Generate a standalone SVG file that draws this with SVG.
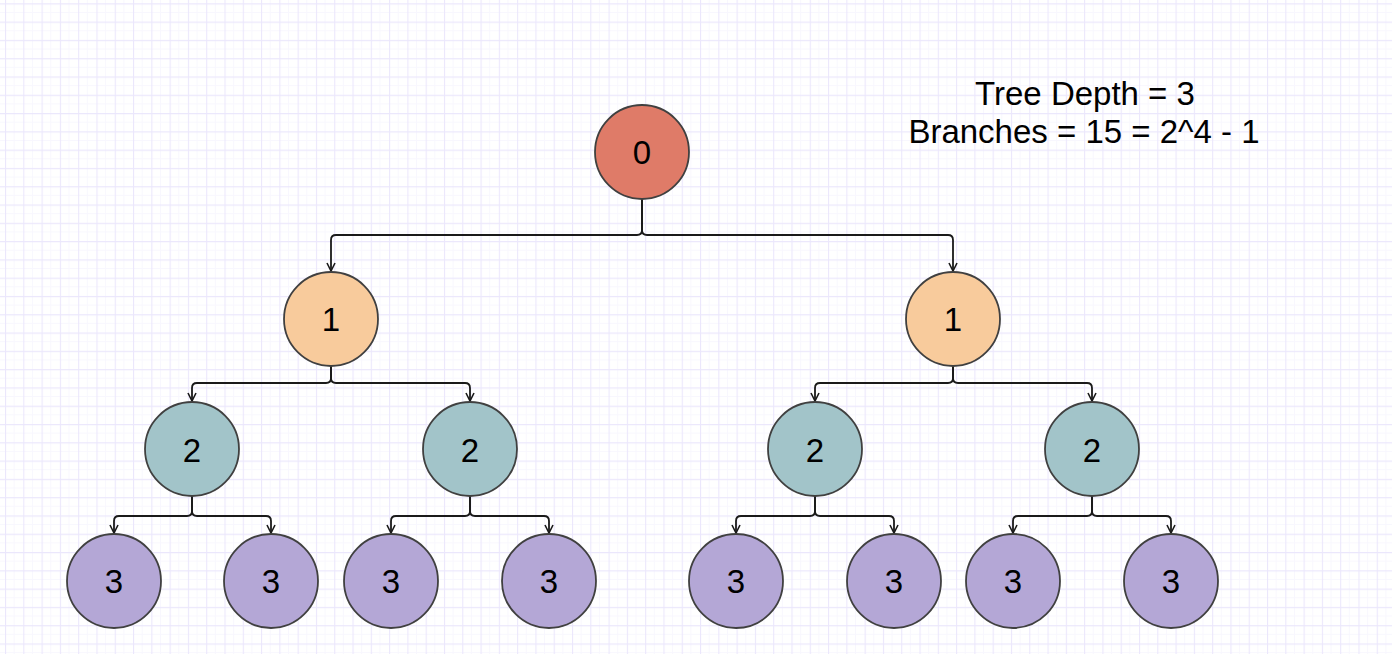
<svg xmlns="http://www.w3.org/2000/svg" width="1392" height="654" viewBox="0 0 1392 654">
<style>
.n circle{stroke:#404040;stroke-width:1.8}
.n text{font-family:"Liberation Sans",Arial,sans-serif;font-size:33px;fill:#000;text-anchor:middle}
.l0 circle{fill:#df7b68}
.l1 circle{fill:#f8cb9c}
.l2 circle{fill:#a2c4c9}
.l3 circle{fill:#b4a7d6}
#connectors path{fill:none;stroke:#1a1a1a;stroke-width:1.8;marker-end:url(#arr)}
.label{font-family:"Liberation Sans",Arial,sans-serif;font-size:33px;fill:#000;text-anchor:middle}
</style>
<defs>
<pattern id="grid" patternUnits="userSpaceOnUse" x="5" y="3.3" width="18.29" height="18.29">
<path d="M9.145 0V18.29M0 9.145H18.29" stroke="#f8f7fe" stroke-width="1" fill="none"/>
<path d="M0.5 0V18.29M0 0.5H18.29" stroke="#ebe7fc" stroke-width="1.2" fill="none"/>
</pattern>
<marker id="arr" viewBox="-10 -5 11 10" refX="0" refY="0" markerWidth="11" markerHeight="10" markerUnits="userSpaceOnUse" orient="auto">
<path d="M-8 -4L0 0L-8 4" fill="none" stroke="#1a1a1a" stroke-width="1.6"/>
</marker>
</defs>
<rect width="1392" height="654" fill="#ffffff"/>
<rect width="1392" height="654" fill="url(#grid)"/>
<g id="connectors">
<path d="M642 199V230Q642 235 637 235H336Q331 235 331 240V271"/>
<path d="M642 199V230Q642 235 647 235H948Q953 235 953 240V271"/>
<path d="M331 366V378Q331 383 326 383H197Q192 383 192 388V401"/>
<path d="M331 366V378Q331 383 336 383H465Q470 383 470 388V401"/>
<path d="M953 366V378Q953 383 948 383H820Q815 383 815 388V401"/>
<path d="M953 366V378Q953 383 958 383H1087Q1092 383 1092 388V401"/>
<path d="M192 496V511Q192 516 187 516H119Q114 516 114 521V533"/>
<path d="M192 496V511Q192 516 197 516H266Q271 516 271 521V533"/>
<path d="M470 496V511Q470 516 465 516H396Q391 516 391 521V533"/>
<path d="M470 496V511Q470 516 475 516H544Q549 516 549 521V533"/>
<path d="M815 496V511Q815 516 810 516H741Q736 516 736 521V533"/>
<path d="M815 496V511Q815 516 820 516H889Q894 516 894 521V533"/>
<path d="M1092 496V511Q1092 516 1087 516H1018Q1013 516 1013 521V533"/>
<path d="M1092 496V511Q1092 516 1097 516H1166Q1171 516 1171 521V533"/>
</g>
<g id="node-root" class="n l0"><circle cx="642" cy="152" r="47"/><text x="642" y="164">0</text></g>
<g id="node-1a" class="n l1"><circle cx="331" cy="319" r="47"/><text x="331" y="331">1</text></g>
<g id="node-1b" class="n l1"><circle cx="953" cy="319" r="47"/><text x="953" y="331">1</text></g>
<g id="node-2a" class="n l2"><circle cx="192" cy="449" r="47"/><text x="192" y="462">2</text></g>
<g id="node-2b" class="n l2"><circle cx="470" cy="449" r="47"/><text x="470" y="462">2</text></g>
<g id="node-2c" class="n l2"><circle cx="815" cy="449" r="47"/><text x="815" y="462">2</text></g>
<g id="node-2d" class="n l2"><circle cx="1092" cy="449" r="47"/><text x="1092" y="462">2</text></g>
<g id="node-3a" class="n l3"><circle cx="114" cy="581" r="47"/><text x="114" y="593">3</text></g>
<g id="node-3b" class="n l3"><circle cx="271" cy="581" r="47"/><text x="271" y="593">3</text></g>
<g id="node-3c" class="n l3"><circle cx="391" cy="581" r="47"/><text x="391" y="593">3</text></g>
<g id="node-3d" class="n l3"><circle cx="549" cy="581" r="47"/><text x="549" y="593">3</text></g>
<g id="node-3e" class="n l3"><circle cx="736" cy="581" r="47"/><text x="736" y="593">3</text></g>
<g id="node-3f" class="n l3"><circle cx="894" cy="581" r="47"/><text x="894" y="593">3</text></g>
<g id="node-3g" class="n l3"><circle cx="1013" cy="581" r="47"/><text x="1013" y="593">3</text></g>
<g id="node-3h" class="n l3"><circle cx="1171" cy="581" r="47"/><text x="1171" y="593">3</text></g>
<g id="info">
<text class="label" x="1085" y="105">Tree Depth = 3</text>
<text class="label" x="1084" y="142.7">Branches = 15 = 2^4 - 1</text>
</g>
</svg>
